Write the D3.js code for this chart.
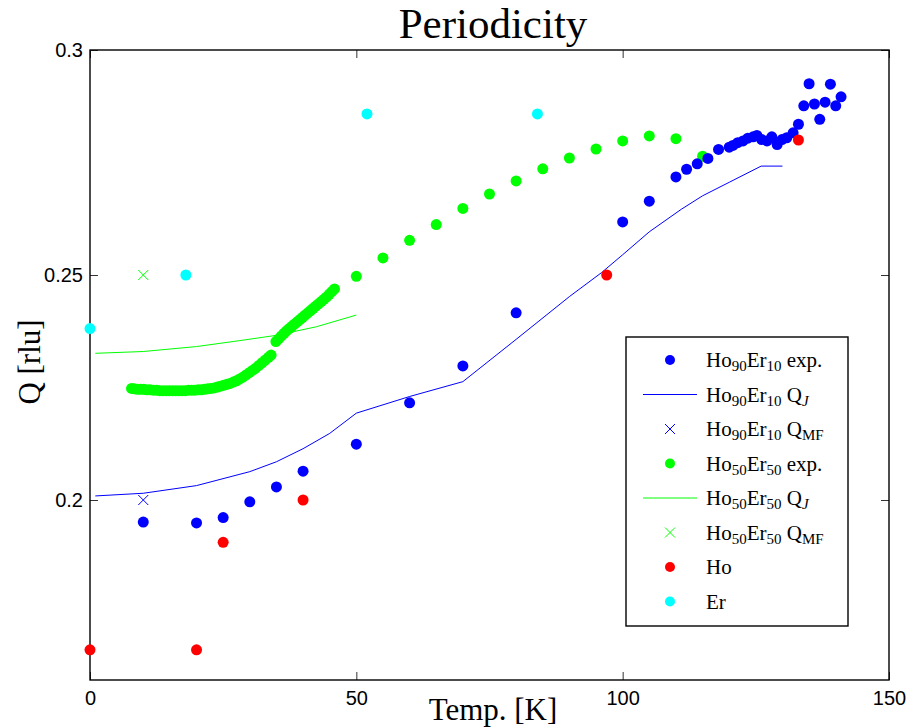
<!DOCTYPE html>
<html><head><meta charset="utf-8">
<script src="https://cdn.jsdelivr.net/npm/d3@7"></script>
<style>
body{margin:0;background:#fff;}
svg{display:block;}
.tick text{font-family:"Liberation Sans",Arial,sans-serif;font-size:20px;fill:#000;}
</style></head><body>
<div id="chart"></div>
<script>
// ---------- data ----------
const xTicks = [0, 50, 100, 150];
const yTicks = [0.2, 0.25, 0.3];

// Ho90Er10 experimental [T, Q]
const ho90Exp = [
 [10,.1951],[20,.1949],[25,.1961],[30,.1996],[35,.2029],[40,.2064],[50,.2124],[60,.2216],
 [70,.2298],[80,.2416],[100,.2618],[105,.2664],[110,.2718],[112,.2735],[114,.2747],[116,.2759],
 [118,.2779],[120,.2784],[120.7,.2788],[121.6,.2794],[122.6,.2798],[123.5,.2804],[124.5,.2807],
 [125.2,.2810],[126.1,.2801],[127.1,.2798],[128,.2807],[129,.2790],[129.9,.2801],[130.8,.2805],
 [132,.2816],[133,.2835],[134,.2876],[135,.2925],[136,.2880],[137,.2846],[138,.2884],[139,.2924],
 [140,.2876],[141,.2896]
];
// Ho90Er10 Q_J model line
const ho90QJ = [
 [1,.2009],[10,.2015],[20,.2032],[30,.2063],[35,.2085],[40,.2114],[45,.2148],[50,.2193],
 [60,.2230],[70,.2263],[80,.2357],[90,.2452],[96,.2505],[100,.2545],[105,.2596],[111,.2646],
 [115,.2676],[120,.2706],[126,.2742],[130,.2742]
];
// Ho90Er10 Q_MF
const ho90QMF = [[10,0.2]];

// Ho50Er50 experimental [T, Q]
const ho50Exp = [
 [7.8,.2248],[8.3,.2247],[8.9,.2246],[9.5,.2246],[10.1,.2246],[10.7,.2245],[11.3,.2245],[11.9,.2244],
 [12.5,.2244],[13.1,.2243],[13.7,.2243],[14.3,.2243],[14.9,.2243],[15.5,.2243],[16.1,.2243],[16.7,.2243],
 [17.3,.2243],[17.9,.2243],[18.5,.2244],[19.1,.2244],[19.7,.2244],[20.3,.2245],[20.9,.2245],[21.5,.2246],
 [22.1,.2247],[22.7,.2248],[23.3,.2249],[23.9,.2251],[24.5,.2253],[25.1,.2255],[25.7,.2257],[26.3,.2259],
 [26.9,.2262],[27.5,.2265],[28.1,.2269],[28.7,.2273],[29.3,.2278],[29.9,.2283],[30.5,.2288],[31.1,.2293],
 [31.7,.2299],[32.3,.2305],[32.9,.2311],[33.5,.2317],[34.0,.2322],
 [34.9,.2352],[35.4,.2358],[35.9,.2364],[36.4,.2370],[36.9,.2376],[37.4,.2381],[37.9,.2386],[38.4,.2391],
 [38.9,.2396],[39.4,.2401],[39.9,.2406],[40.4,.2411],[40.9,.2416],[41.4,.2421],[41.9,.2426],[42.4,.2431],
 [42.9,.2436],[43.4,.2441],[43.9,.2446],[44.4,.2451],[44.9,.2457],[45.4,.2463],[45.9,.2469],
 [50,.2497],[55,.2538],[60,.2577],[65,.2612],[70,.2648],[75,.2680],[80,.2709],[85,.2736],
 [90,.2760],[95,.2780],[100,.2798],[105,.2809],[110,.2803],[115,.2764]
];
// Ho50Er50 Q_J model line
const ho50QJ = [[1,.2326],[10,.2330],[20,.2341],[28,.2354],[35,.2366],[42.5,.2385],[50,.2411]];
// Ho50Er50 Q_MF
const ho50QMF = [[10,0.25]];

// pure Ho and Er
const hoPure = [[0,.1667],[20,.1667],[25,.1906],[40,.2],[97,.25],[133,.28]];
const erPure = [[0,.2381],[18,.25],[52,.2858],[84,.2858]];

const legendLabels = [
 {a:"Ho",s1:"90",b:"Er",s2:"10",c:" exp."},
 {a:"Ho",s1:"90",b:"Er",s2:"10",c:" Q",sub:"J",it:true},
 {a:"Ho",s1:"90",b:"Er",s2:"10",c:" Q",sub:"MF"},
 {a:"Ho",s1:"50",b:"Er",s2:"50",c:" exp."},
 {a:"Ho",s1:"50",b:"Er",s2:"50",c:" Q",sub:"J",it:true},
 {a:"Ho",s1:"50",b:"Er",s2:"50",c:" Q",sub:"MF"},
 {a:"Ho"},
 {a:"Er"}
];
const legendKinds = [["dot","#0000ff"],["line","#0000ff"],["x","#0000ff"],["dot","#00ff00"],["line","#00ff00"],["x","#00ff00"],["dot","#ff0000"],["dot","#00ffff"]];

// ---------- drawing ----------
const W = 918, H = 727;
const L = 90, R = 889, T = 50, B = 680;
const svg = d3.select("#chart").append("svg").attr("width", W).attr("height", H);
const x = d3.scaleLinear().domain([0,150]).range([L,R]);
const y = d3.scaleLinear().domain([0.16,0.3]).range([B,T]);
const serif = "'Liberation Serif','Times New Roman',Times,serif";

// axes with inward ticks
function styleAxis(g){ g.select(".domain").remove(); g.selectAll(".tick line").attr("stroke","#333").attr("stroke-width",1); }
svg.append("g").attr("transform",`translate(0,${B})`)
  .call(d3.axisBottom(x).tickValues(xTicks).tickSize(-8).tickPadding(11).tickFormat(d3.format("d"))).call(styleAxis);
svg.append("g").attr("transform",`translate(0,${T})`)
  .call(d3.axisTop(x).tickValues(xTicks).tickSize(-8).tickFormat("")).call(styleAxis);
svg.append("g").attr("transform",`translate(${L},0)`)
  .call(d3.axisLeft(y).tickValues(yTicks).tickSize(-8).tickPadding(7).tickFormat(d=>String(d))).call(styleAxis);
svg.append("g").attr("transform",`translate(${R},0)`)
  .call(d3.axisRight(y).tickValues(yTicks).tickSize(-8).tickFormat("")).call(styleAxis);

svg.append("rect").attr("x",L).attr("y",T).attr("width",R-L).attr("height",B-T)
  .attr("fill","none").attr("stroke","#000").attr("stroke-width",1.4);

// lines
const line = d3.line().x(d=>x(d[0])).y(d=>y(d[1]));
svg.append("path").datum(ho90QJ).attr("d",line).attr("fill","none").attr("stroke","#0000ff").attr("stroke-width",1);
svg.append("path").datum(ho50QJ).attr("d",line).attr("fill","none").attr("stroke","#00ff00").attr("stroke-width",1);

function dots(data,color){
  svg.append("g").selectAll("circle").data(data).join("circle")
    .attr("cx",d=>x(d[0])).attr("cy",d=>y(d[1])).attr("r",5.5).attr("fill",color);
}
function crosses(data,color){
  svg.append("g").selectAll("path").data(data).join("path")
    .attr("d",d=>{const cx=x(d[0]),cy=y(d[1]),s=5;return `M${cx-s},${cy-s}L${cx+s},${cy+s}M${cx-s},${cy+s}L${cx+s},${cy-s}`;})
    .attr("stroke",color).attr("stroke-width",1).attr("fill","none");
}
dots(ho50Exp,"#00ff00");
dots(ho90Exp,"#0000ff");
crosses(ho90QMF,"#0000ff");
crosses(ho50QMF,"#00ff00");
dots(hoPure,"#ff0000");
dots(erPure,"#00ffff");

// title & labels
svg.append("text").attr("x",493).attr("y",38).attr("text-anchor","middle")
  .attr("font-family",serif).attr("font-size",43).text("Periodicity");
svg.append("text").attr("x",493).attr("y",720).attr("text-anchor","middle")
  .attr("font-family",serif).attr("font-size",31).text("Temp. [K]");
svg.append("text").attr("transform","translate(40,362) rotate(-90)").attr("text-anchor","middle")
  .attr("font-family",serif).attr("font-size",31).text("Q [rlu]");

// legend
const lg = svg.append("g");
lg.append("rect").attr("x",626).attr("y",337).attr("width",222).attr("height",289)
  .attr("fill","#fff").attr("stroke","#000").attr("stroke-width",1.4);
const rowY = i => 360 + i*34.5;
legendLabels.forEach((lab,i)=>{
  const cy = rowY(i), k = legendKinds[i];
  if(k[0]==="dot") lg.append("circle").attr("cx",670).attr("cy",cy).attr("r",5).attr("fill",k[1]);
  else if(k[0]==="line") lg.append("line").attr("x1",643).attr("x2",697).attr("y1",cy).attr("y2",cy).attr("stroke",k[1]).attr("stroke-width",1);
  else { const s=5; lg.append("path").attr("d",`M${670-s},${cy-s}L${670+s},${cy+s}M${670-s},${cy+s}L${670+s},${cy-s}`).attr("stroke",k[1]).attr("fill","none"); }
  const t = lg.append("text").attr("x",706).attr("y",cy+7).attr("font-family",serif).attr("font-size",21);
  t.append("tspan").text(lab.a);
  if(lab.s1){
    t.append("tspan").attr("dy",4).attr("font-size",15).text(lab.s1);
    t.append("tspan").attr("dy",-4).text(lab.b);
    t.append("tspan").attr("dy",4).attr("font-size",15).text(lab.s2);
    t.append("tspan").attr("dy",-4).text(lab.c);
    if(lab.sub){
      t.append("tspan").attr("dy",4).attr("font-size",15).attr("font-style",lab.it?"italic":"normal").text(lab.sub);
    }
  }
});
</script>
</body></html>
